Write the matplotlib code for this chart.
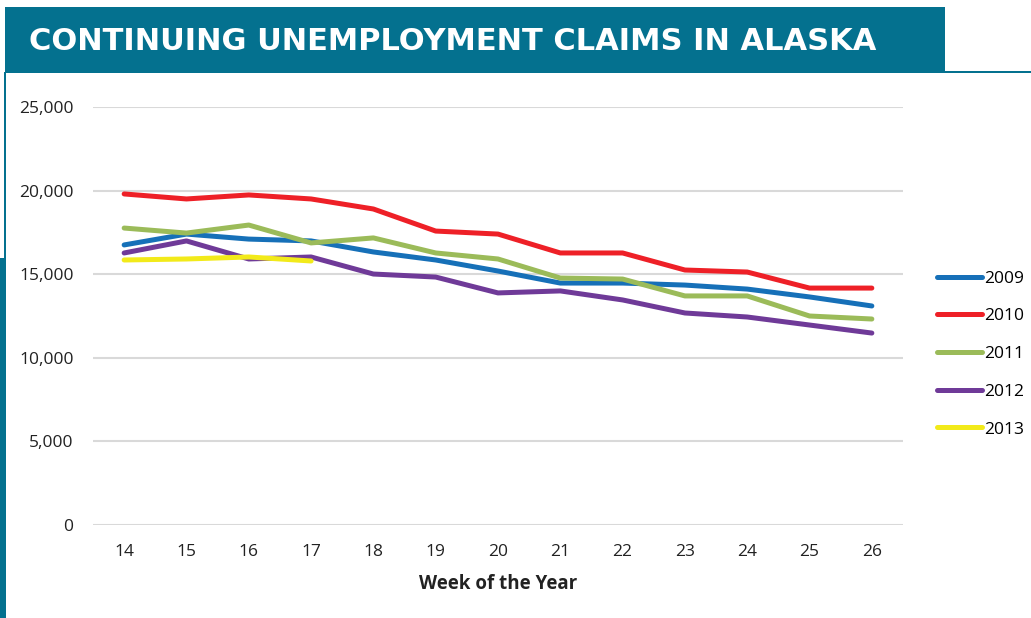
import matplotlib.pyplot as plt
from matplotlib.patches import Rectangle

weeks = [14, 15, 16, 17, 18, 19, 20, 21, 22, 23, 24, 25, 26]
claims_2009 = [16750, 17400, 17100, 16990, 16330, 15850, 15190, 14470, 14470, 14350, 14110, 13640, 13100]
claims_2010 = [19800, 19500, 19740, 19500, 18900, 17580, 17400, 16270, 16270, 15250, 15130, 14170, 14170]
claims_2011 = [17760, 17460, 17940, 16870, 17170, 16270, 15910, 14770, 14710, 13700, 13700, 12500, 12320]
claims_2012 = [16270, 16990, 15910, 16030, 15010, 14830, 13880, 14000, 13460, 12680, 12440, 11960, 11480]
weeks_2013 = [14, 15, 16, 17]
claims_2013 = [15850, 15910, 16030, 15790]

teal = "#04718f"
W, H = 1031, 618

fig = plt.figure(figsize=(W / 100, H / 100), dpi=100)

# banner oben und rand links
fig.patches.append(Rectangle((5 / W, 1 - 72 / H), 940 / W, 65 / H, transform=fig.transFigure,
                             facecolor=teal, edgecolor="none"))
fig.patches.append(Rectangle((5 / W, 1 - 73 / H), 1 - 5 / W, 2 / H, transform=fig.transFigure,
                             facecolor=teal, edgecolor="none"))
fig.patches.append(Rectangle((4 / W, 1 - 258 / H), 2 / W, 186 / H, transform=fig.transFigure,
                             facecolor=teal, edgecolor="none"))
fig.patches.append(Rectangle((0, 0), 6 / W, 1 - 258 / H, transform=fig.transFigure,
                             facecolor=teal, edgecolor="none"))
fig.text(29 / W, 1 - 41 / H, "CONTINUING UNEMPLOYMENT CLAIMS IN ALASKA", color="white",
         fontsize=22, fontweight="bold", family="DejaVu Sans", va="center", ha="left")

ax = fig.add_axes([93 / W, (H - 525) / H, 810 / W, (525 - 107) / H])
lw = 3.6
ax.plot(weeks, claims_2009, color="#1670b8", lw=lw, label="2009", solid_capstyle="round")
ax.plot(weeks, claims_2010, color="#ee2027", lw=lw, label="2010", solid_capstyle="round")
ax.plot(weeks, claims_2011, color="#9bbb59", lw=lw, label="2011", solid_capstyle="round")
ax.plot(weeks, claims_2012, color="#6f3a98", lw=lw, label="2012", solid_capstyle="round")
ax.plot(weeks_2013, claims_2013, color="#f2ea1a", lw=lw, label="2013", solid_capstyle="round")

ax.set_xlim(13.5, 26.5)
ax.set_ylim(0, 25000)
ax.set_xticks(weeks)
ax.set_yticks(range(0, 25001, 5000))
ax.set_yticklabels([f"{v:,}" for v in range(0, 25001, 5000)])
ax.grid(axis="y", color="#d9d9d9", lw=1.5)
ax.set_axisbelow(True)
for s in ax.spines.values():
    s.set_visible(False)
ax.tick_params(length=0, labelsize=12.5, colors="#222222")
ax.tick_params(axis="y", pad=14)
ax.tick_params(axis="x", pad=14)
for lab in ax.get_xticklabels() + ax.get_yticklabels():
    lab.set_family("Open Sans")
ax.set_xlabel("Week of the Year", fontsize=13.5, fontweight="bold", family="Open Sans",
              color="#222222", labelpad=10)

ax.legend(loc="upper left", bbox_to_anchor=(921 / W, 1 - 255 / H), bbox_transform=fig.transFigure,
          frameon=False, handlelength=2.6, handletextpad=0.15, labelspacing=1.24,
          prop={"family": "Open Sans", "size": 12.5})

plt.savefig("out.png", dpi=100)
